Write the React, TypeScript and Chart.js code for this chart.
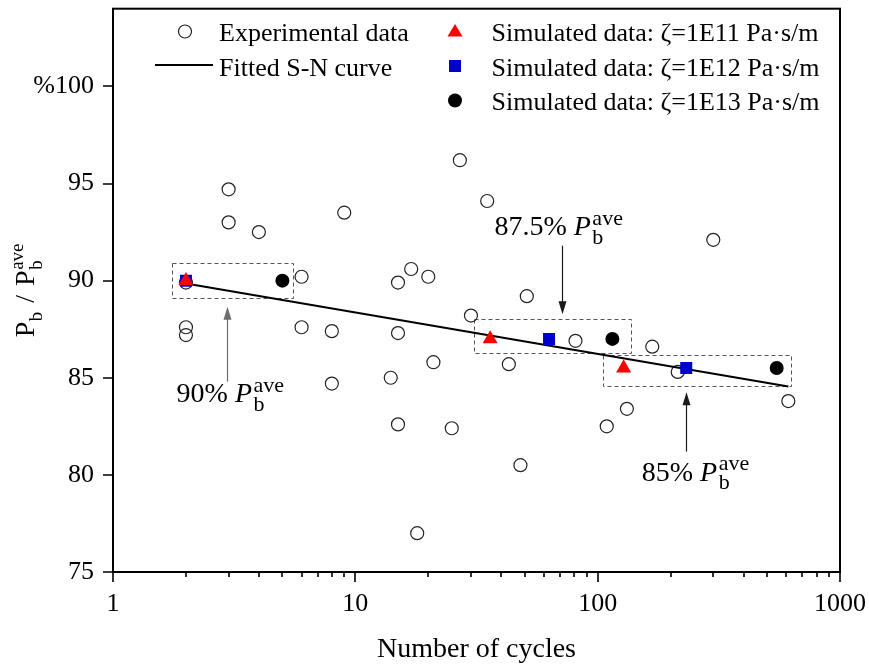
import React, { useEffect, useRef } from "react";
import { Chart, registerables } from "chart.js";

Chart.register(...registerables);

const SERIF = '"Liberation Serif", "Times New Roman", Times, serif';

// ---------- data ----------
const expCycles = [2, 2, 2, 3, 3, 4, 6, 6, 8, 8, 9, 14, 15, 15, 15, 17, 18, 20, 21, 25, 27, 30, 35, 43, 48, 51, 81, 109, 132, 168, 214, 300, 612];
const expRatio = [89.9, 87.6, 87.2, 94.7, 93.0, 92.5, 90.2, 87.6, 87.4, 84.7, 93.5, 85.0, 89.9, 87.3, 82.6, 90.6, 77.0, 90.2, 85.8, 82.4, 96.2, 88.2, 94.1, 85.7, 80.5, 89.2, 86.9, 82.5, 83.4, 86.6, 85.3, 92.1, 83.8];

const fitCycles = [2, 612];
const fitRatio = [89.85, 84.55];

const sim11Cycles = [2, 36, 128];
const sim11Ratio = [90.0, 87.0, 85.5];
const sim12Cycles = [2, 63, 232];
const sim12Ratio = [90.0, 87.0, 85.5];
const sim13Cycles = [5, 115, 548];
const sim13Ratio = [90.0, 87.0, 85.5];

const xTickValues = [1, 10, 100, 1000];
const yTickValues = [75, 80, 85, 90, 95, 100];
const yTickLabels = ["75", "80", "85", "90", "95", "%100"];

// dashed group boxes (data coords)
const boxXStart = [1.75, 31, 105.6];
const boxXEnd = [5.55, 137, 627];
const boxYLow = [89.1, 86.3, 84.55];
const boxYHigh = [90.9, 88.05, 86.15];

// arrows (data coords)
const arrowX = [2.95, 71.5, 231];
const arrowFromY = [84.8, 91.8, 81.2];
const arrowToY = [88.65, 88.27, 84.25];

// annotation labels
const annPercent = ["90%", "87.5%", "85%"];
const annX = [1.83, 37.5, 152];
const annY = [83.73, 92.34, 79.71];

const seriesLabels = [
  "Experimental data",
  "Fitted S-N curve",
  "Simulated data: \u03B6=1E11 Pa\u00B7s/m",
  "Simulated data: \u03B6=1E12 Pa\u00B7s/m",
  "Simulated data: \u03B6=1E13 Pa\u00B7s/m",
];

// ---------- helpers ----------
const pts = (xs: number[], ys: number[]) => xs.map((x, i) => ({ x, y: ys[i] }));

function drawPb(ctx: CanvasRenderingContext2D, x: number, y: number, size: number, italic: boolean, withAve: boolean, ratio: number): number {
  ctx.font = `${italic ? "italic " : ""}${size}px ${SERIF}`;
  ctx.fillText("P", x, y);
  const wP = ctx.measureText("P").width + (italic ? 1.5 : 0.5);
  const small = Math.round(size * ratio);
  ctx.font = `${small}px ${SERIF}`;
  ctx.fillText("b", x + wP, y + size * 0.3);
  let w = wP + ctx.measureText("b").width;
  if (withAve) {
    ctx.fillText("ave", x + wP, y - size * 0.38);
    w = Math.max(w, wP + ctx.measureText("ave").width);
  }
  return w;
}

function measurePb(ctx: CanvasRenderingContext2D, size: number, italic: boolean, withAve: boolean, ratio: number): number {
  ctx.save();
  ctx.font = `${italic ? "italic " : ""}${size}px ${SERIF}`;
  const wP = ctx.measureText("P").width + (italic ? 1.5 : 0.5);
  ctx.font = `${Math.round(size * ratio)}px ${SERIF}`;
  let w = wP + ctx.measureText("b").width;
  if (withAve) w = Math.max(w, wP + ctx.measureText("ave").width);
  ctx.restore();
  return w;
}

const ARROW_COLORS = ["#6e6e6e", "#1a1a1a", "#1a1a1a"];

const overlayPlugin = {
  id: "overlay",
  beforeDatasetsDraw(chart: any) {
    const { ctx, scales } = chart;
    const xs = scales.x, ys = scales.y;
    ctx.save();
    ctx.setLineDash([4, 3]);
    ctx.strokeStyle = "#555";
    ctx.lineWidth = 1;
    for (let i = 0; i < boxXStart.length; i++) {
      const x1 = Math.round(xs.getPixelForValue(boxXStart[i])) + 0.5;
      const x2 = Math.round(xs.getPixelForValue(boxXEnd[i])) + 0.5;
      const y1 = Math.round(ys.getPixelForValue(boxYHigh[i])) + 0.5;
      const y2 = Math.round(ys.getPixelForValue(boxYLow[i])) + 0.5;
      ctx.strokeRect(x1, y1, x2 - x1, y2 - y1);
    }
    ctx.restore();
  },
  afterDraw(chart: any) {
    const { ctx, chartArea, scales } = chart;
    const xs = scales.x, ys = scales.y;
    const { left, right, top, bottom } = chartArea;
    ctx.save();

    // frame
    ctx.strokeStyle = "#000";
    ctx.lineWidth = 2;
    ctx.setLineDash([]);
    ctx.strokeRect(left, top, right - left, bottom - top);

    // x ticks (major + minor)
    ctx.lineWidth = 1.6;
    ctx.beginPath();
    for (let d = 1; d <= 100; d *= 10) {
      for (let m = 1; m <= 9; m++) {
        const px = Math.round(xs.getPixelForValue(d * m));
        const len = m === 1 ? 10 : 5;
        ctx.moveTo(px, bottom);
        ctx.lineTo(px, bottom + len);
      }
    }
    const p1000 = Math.round(xs.getPixelForValue(1000));
    ctx.moveTo(p1000, bottom);
    ctx.lineTo(p1000, bottom + 10);
    // y ticks
    for (const v of yTickValues) {
      const py = Math.round(ys.getPixelForValue(v));
      ctx.moveTo(left, py);
      ctx.lineTo(left - 10, py);
    }
    ctx.stroke();

    // arrows
    for (let i = 0; i < arrowX.length; i++) {
      const ax = Math.round(xs.getPixelForValue(arrowX[i])) + 0.5;
      const y0 = ys.getPixelForValue(arrowFromY[i]);
      const y1 = ys.getPixelForValue(arrowToY[i]);
      const dir = y1 < y0 ? -1 : 1;
      ctx.strokeStyle = ARROW_COLORS[i];
      ctx.fillStyle = ARROW_COLORS[i];
      ctx.lineWidth = 1.2;
      ctx.beginPath();
      ctx.moveTo(ax, y0);
      ctx.lineTo(ax, y1 - dir * 10);
      ctx.stroke();
      ctx.beginPath();
      ctx.moveTo(ax, y1);
      ctx.lineTo(ax - 4, y1 - dir * 13);
      ctx.lineTo(ax + 4, y1 - dir * 13);
      ctx.closePath();
      ctx.fill();
    }

    // annotation labels
    ctx.fillStyle = "#000";
    ctx.textAlign = "left";
    ctx.textBaseline = "alphabetic";
    for (let i = 0; i < annPercent.length; i++) {
      const tx = xs.getPixelForValue(annX[i]);
      const ty = ys.getPixelForValue(annY[i]);
      ctx.font = `28px ${SERIF}`;
      const t = annPercent[i] + " ";
      ctx.fillText(t, tx, ty);
      const w = ctx.measureText(t).width;
      drawPb(ctx, tx + w, ty, 28, true, true, 0.78);
    }

    // x axis title
    ctx.font = `28px ${SERIF}`;
    ctx.textAlign = "center";
    ctx.fillText("Number of cycles", (left + right) / 2, 657);

    // y axis title (rotated)
    ctx.save();
    ctx.translate(34, (top + bottom) / 2);
    ctx.rotate(-Math.PI / 2);
    ctx.textAlign = "left";
    const size = 28;
    const ratio = 0.68;
    ctx.font = `${size}px ${SERIF}`;
    const slash = "/";
    const gap = 9;
    const wSlash = ctx.measureText(slash).width + 2 * gap;
    const total = measurePb(ctx, size, false, false, ratio) + wSlash + measurePb(ctx, size, false, true, ratio);
    let cx = -total / 2;
    cx += drawPb(ctx, cx, 0, size, false, false, ratio);
    ctx.font = `${size}px ${SERIF}`;
    ctx.fillText(slash, cx + gap, 0);
    cx += wSlash;
    drawPb(ctx, cx, 0, size, false, true, ratio);
    ctx.restore();

    // legend
    const rows = [31.5, 66, 100.5];
    const c1 = 185, c2 = 455, t1 = 219, t2 = 491.5;
    ctx.textAlign = "left";
    ctx.font = `26px ${SERIF}`;
    ctx.fillStyle = "#000";
    ctx.strokeStyle = "#222";
    ctx.lineWidth = 1.2;
    ctx.beginPath();
    ctx.arc(c1, rows[0], 6.5, 0, Math.PI * 2);
    ctx.stroke();
    ctx.fillText(chart.data.datasets[0].label, t1, rows[0] + 9.5);
    ctx.strokeStyle = "#000";
    ctx.lineWidth = 2;
    ctx.beginPath();
    ctx.moveTo(155, 65);
    ctx.lineTo(213, 65);
    ctx.stroke();
    ctx.fillText(chart.data.datasets[1].label, t1, rows[1] + 9.5);
    ctx.fillStyle = "#FF0000";
    ctx.beginPath();
    ctx.moveTo(c2, rows[0] - 7.5);
    ctx.lineTo(c2 + 7.5, rows[0] + 5);
    ctx.lineTo(c2 - 7.5, rows[0] + 5);
    ctx.closePath();
    ctx.fill();
    ctx.fillStyle = "#0000CC";
    ctx.fillRect(c2 - 6, rows[1] - 6, 12, 12);
    ctx.fillStyle = "#000";
    ctx.beginPath();
    ctx.arc(c2, rows[2], 7, 0, Math.PI * 2);
    ctx.fill();
    ctx.fillText(chart.data.datasets[2].label, t2, rows[0] + 9.5);
    ctx.fillText(chart.data.datasets[3].label, t2, rows[1] + 9.5);
    ctx.fillText(chart.data.datasets[4].label, t2, rows[2] + 9.5);

    ctx.restore();
  },
};

export default function App() {
  const canvasRef = useRef<HTMLCanvasElement | null>(null);

  useEffect(() => {
    if (!canvasRef.current) return;
    const chart = new Chart(canvasRef.current, {
      type: "scatter",
      data: {
        datasets: [
          {
            label: seriesLabels[0],
            data: pts(expCycles, expRatio),
            pointStyle: "circle",
            pointRadius: 6.5,
            borderColor: "#222",
            backgroundColor: "rgba(0,0,0,0)",
            borderWidth: 1.2,
            order: 5,
          },
          {
            label: seriesLabels[1],
            type: "line",
            data: pts(fitCycles, fitRatio),
            borderColor: "#000",
            borderWidth: 2,
            pointRadius: 0,
            fill: false,
            order: 4,
          } as any,
          {
            label: seriesLabels[2],
            data: pts(sim11Cycles, sim11Ratio),
            pointStyle: "triangle",
            pointRadius: 8.7,
            backgroundColor: "#FF0000",
            borderColor: "#FF0000",
            borderWidth: 0,
            order: 1,
          },
          {
            label: seriesLabels[3],
            data: pts(sim12Cycles, sim12Ratio),
            pointStyle: "rect",
            pointRadius: 8.5,
            backgroundColor: "#0000CC",
            borderColor: "#0000CC",
            borderWidth: 0,
            order: 2,
          },
          {
            label: seriesLabels[4],
            data: pts(sim13Cycles, sim13Ratio),
            pointStyle: "circle",
            pointRadius: 7,
            backgroundColor: "#000",
            borderColor: "#000",
            borderWidth: 0,
            order: 3,
          },
        ],
      },
      options: {
        responsive: false,
        animation: false,
        devicePixelRatio: 1,
        events: [],
        layout: { padding: { top: 7, right: 29, left: 0, bottom: 0 } },
        plugins: {
          legend: { display: false },
          tooltip: { enabled: false },
          title: { display: false },
        },
        scales: {
          x: {
            type: "logarithmic",
            min: 1,
            max: 1000,
            grid: { display: false, drawTicks: false },
            border: { display: false },
            afterBuildTicks: (s: any) => {
              s.ticks = xTickValues.map((v) => ({ value: v, major: true }));
            },
            afterFit: (s: any) => {
              s.height = 96;
              s.paddingLeft = 0;
              s.paddingRight = 0;
              s.paddingTop = 0;
              s.paddingBottom = 0;
            },
            ticks: {
              autoSkip: false,
              maxRotation: 0,
              padding: 17,
              color: "#000",
              font: { family: SERIF, size: 26 },
              callback: (v: any) => String(v),
            },
          },
          y: {
            type: "linear",
            min: 75,
            max: 104,
            grid: { display: false, drawTicks: false },
            border: { display: false },
            afterBuildTicks: (s: any) => {
              s.ticks = yTickValues.map((v) => ({ value: v }));
            },
            afterFit: (s: any) => {
              s.width = 113;
              s.paddingLeft = 0;
              s.paddingRight = 0;
              s.paddingTop = 0;
              s.paddingBottom = 0;
            },
            ticks: {
              padding: 19,
              color: "#000",
              font: { family: SERIF, size: 26 },
              callback: (v: any) => {
                const i = yTickValues.indexOf(Number(v));
                return i >= 0 ? yTickLabels[i] : "";
              },
            },
          },
        },
      },
      plugins: [overlayPlugin],
    } as any);
    return () => chart.destroy();
  }, []);

  return (
    <div style={{ position: "absolute", left: 0, top: 0, width: 869, height: 668, background: "#fff" }}>
      <canvas ref={canvasRef} width={869} height={668} style={{ width: 869, height: 668, display: "block" }} />
    </div>
  );
}
